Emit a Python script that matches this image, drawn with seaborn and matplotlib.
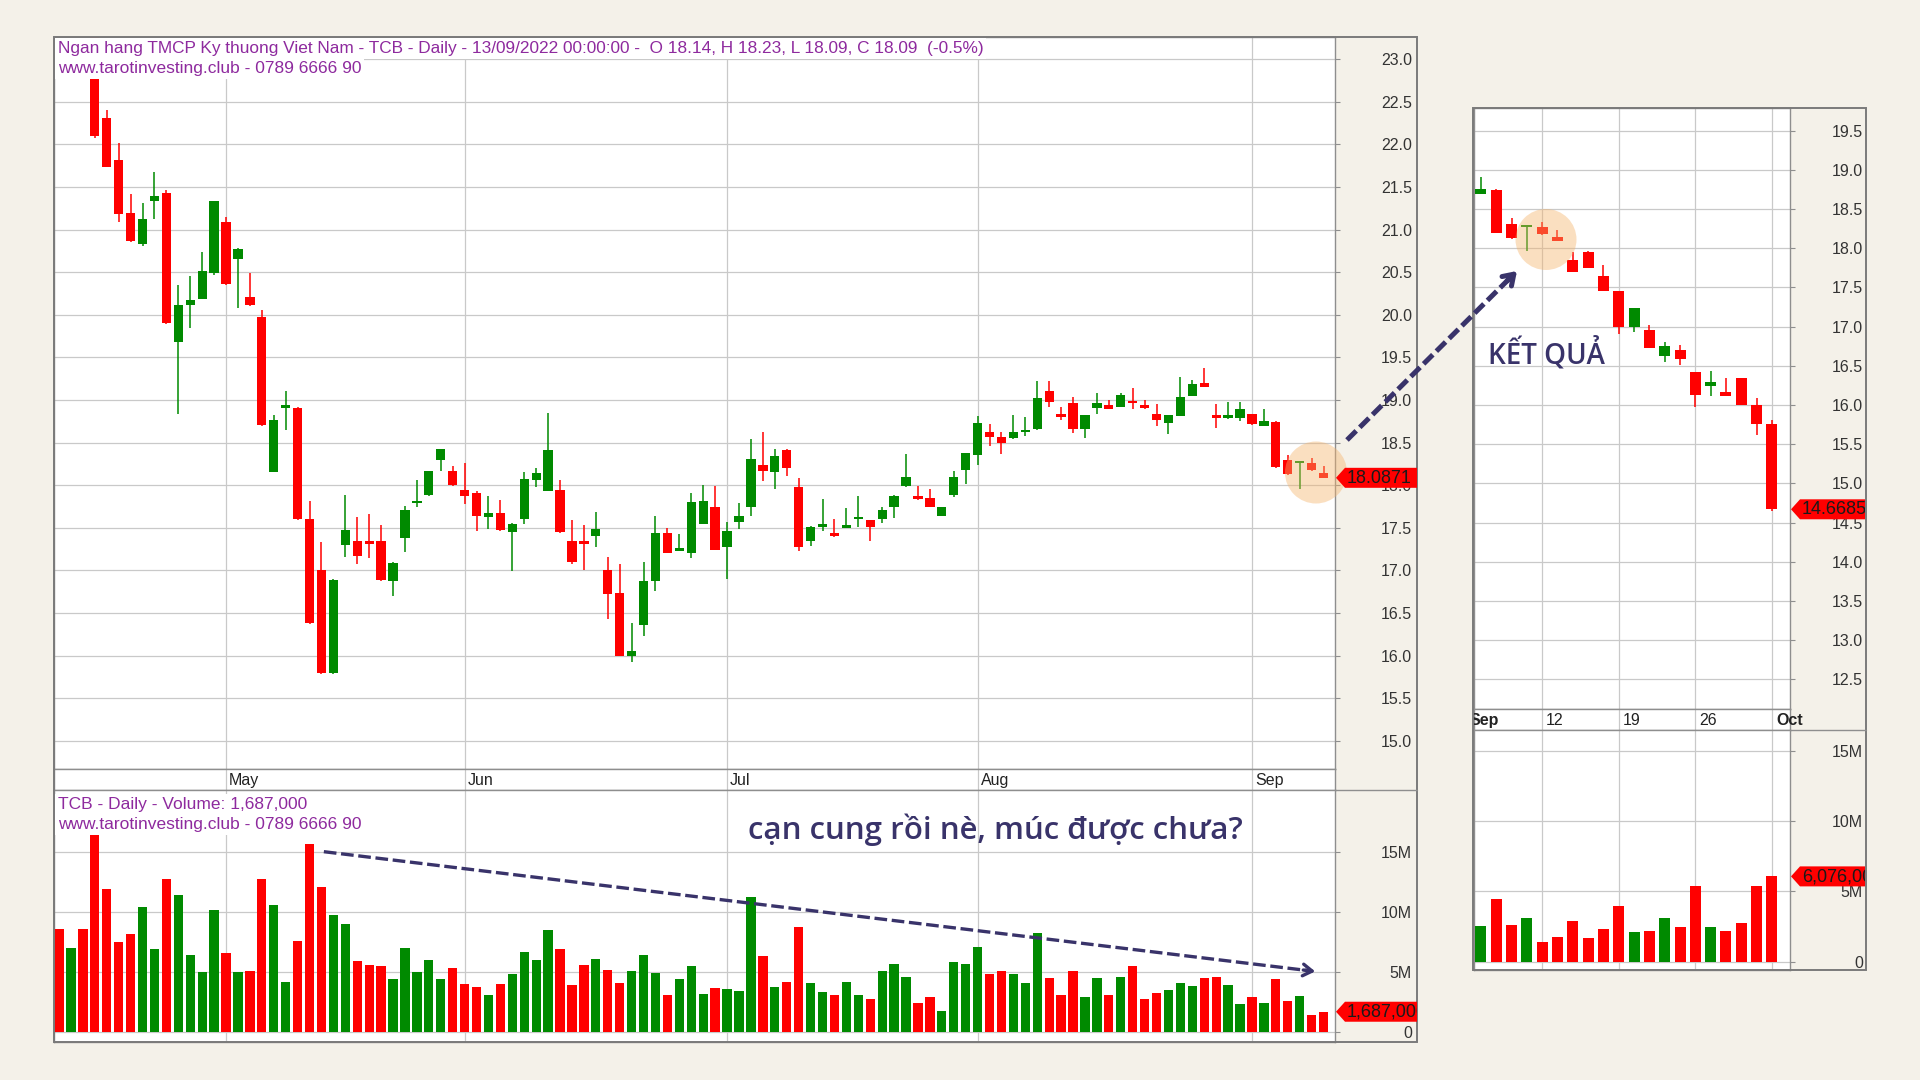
import numpy as np
import pandas as pd
import matplotlib
matplotlib.use("Agg")
import matplotlib.pyplot as plt
import matplotlib.transforms as mtransforms
from matplotlib.patches import Rectangle, Circle, Polygon
import seaborn as sns

# ---------------- data : main chart (TCB daily, 12/04/2022 - 13/09/2022) ----------------
main_start, main_end = "2022-04-12", "2022-09-13"
main_holidays = ["2022-05-02", "2022-05-03", "2022-09-01", "2022-09-02"]

main_open = [24.10, 23.60, 23.90, 23.30, 22.31, 21.82, 21.19, 20.83, 21.33, 21.43,
             19.68, 20.11, 20.19, 20.49, 21.09, 20.65, 20.21, 19.98, 18.16, 18.91,
             18.91, 17.60, 17.01, 15.80, 17.30, 17.35, 17.35, 17.35, 16.88, 17.38,
             17.79, 17.89, 18.30, 18.17, 17.94, 17.91, 17.63, 17.68, 17.45, 17.60,
             18.06, 17.93, 17.94, 17.35, 17.32, 17.41, 17.00, 16.73, 16.00, 16.36,
             16.88, 17.44, 17.23, 17.21, 17.55, 17.74, 17.27, 17.57, 17.74, 18.24,
             18.16, 18.41, 17.98, 17.35, 17.51, 17.44, 17.50, 17.60, 17.59, 17.60,
             17.74, 17.99, 17.87, 17.85, 17.64, 17.89, 18.18, 18.36, 18.63, 18.57,
             18.55, 18.62, 18.66, 19.10, 18.84, 18.97, 18.66, 18.91, 18.94, 18.92,
             18.97, 18.93, 18.84, 18.73, 18.81, 19.05, 19.20, 18.82, 18.79, 18.79,
             18.84, 18.69, 18.74, 18.30, 18.26, 18.26, 18.14]
main_high = [24.30, 24.00, 24.00, 23.35, 22.40, 22.02, 21.42, 21.31, 21.68, 21.46,
             20.35, 20.45, 20.74, 21.34, 21.15, 20.78, 20.49, 20.06, 18.82, 19.11,
             18.92, 17.82, 17.33, 16.90, 17.88, 17.63, 17.66, 17.53, 17.10, 17.76,
             18.06, 18.17, 18.43, 18.23, 18.26, 17.93, 17.87, 17.83, 17.56, 18.15,
             18.20, 18.85, 18.06, 17.59, 17.53, 17.69, 17.16, 17.07, 16.38, 17.10,
             17.64, 17.50, 17.43, 17.91, 18.00, 17.99, 17.57, 17.79, 18.54, 18.62,
             18.42, 18.42, 18.08, 17.52, 17.84, 17.60, 17.73, 17.87, 17.59, 17.74,
             17.89, 18.37, 17.99, 17.96, 17.75, 18.17, 18.38, 18.81, 18.72, 18.62,
             18.82, 18.80, 19.22, 19.22, 18.92, 19.04, 18.82, 19.08, 19.00, 19.08,
             19.14, 19.00, 18.95, 18.82, 19.27, 19.24, 19.37, 18.95, 18.98, 18.98,
             18.84, 18.90, 18.75, 18.35, 18.27, 18.32, 18.23]
main_low = [23.60, 23.50, 23.30, 22.08, 21.73, 21.09, 20.86, 20.81, 21.12, 19.89,
            18.84, 19.85, 20.18, 20.47, 20.35, 20.08, 20.10, 18.70, 18.15, 18.65,
            17.59, 16.37, 15.79, 15.79, 17.16, 17.08, 17.15, 16.88, 16.70, 17.22,
            17.74, 17.87, 18.17, 17.99, 17.78, 17.46, 17.49, 17.46, 16.99, 17.55,
            17.98, 17.93, 17.44, 17.08, 17.00, 17.28, 16.43, 16.00, 15.92, 16.23,
            16.76, 17.20, 17.23, 17.15, 17.54, 17.24, 16.90, 17.49, 17.64, 18.05,
            17.95, 18.11, 17.23, 17.29, 17.46, 17.39, 17.50, 17.51, 17.35, 17.56,
            17.62, 17.98, 17.83, 17.74, 17.64, 17.86, 18.02, 18.24, 18.46, 18.37,
            18.54, 18.58, 18.65, 18.92, 18.76, 18.61, 18.56, 18.84, 18.90, 18.92,
            18.90, 18.90, 18.70, 18.60, 18.81, 19.05, 19.15, 18.67, 18.78, 18.75,
            18.71, 18.69, 18.20, 18.12, 17.96, 18.17, 18.09]
main_close = [23.70, 23.90, 23.40, 22.10, 21.74, 21.18, 20.87, 21.13, 21.39, 19.90,
              20.11, 20.17, 20.51, 21.33, 20.36, 20.77, 20.11, 18.71, 18.76, 18.93,
              17.60, 16.38, 15.80, 16.89, 17.48, 17.17, 17.31, 16.89, 17.09, 17.71,
              17.80, 18.17, 18.43, 18.00, 17.87, 17.64, 17.68, 17.47, 17.55, 18.07,
              18.14, 18.41, 17.45, 17.10, 17.31, 17.49, 16.72, 16.00, 16.06, 16.88,
              17.44, 17.21, 17.24, 17.80, 17.82, 17.24, 17.46, 17.64, 18.31, 18.17,
              18.34, 18.20, 17.27, 17.51, 17.55, 17.40, 17.51, 17.61, 17.51, 17.71,
              17.87, 18.10, 17.84, 17.74, 17.75, 18.10, 18.38, 18.73, 18.57, 18.49,
              18.62, 18.63, 19.02, 18.98, 18.80, 18.66, 18.82, 18.96, 18.90, 19.06,
              18.96, 18.91, 18.76, 18.82, 19.03, 19.19, 19.15, 18.79, 18.82, 18.89,
              18.72, 18.75, 18.21, 18.13, 18.27, 18.18, 18.09]
main_volume_m = [8.6, 7.0, 8.6, 16.7, 11.9, 7.5, 8.2, 10.4, 6.9, 12.75,
                 11.4, 6.4, 5.0, 10.2, 6.6, 5.0, 5.1, 12.75, 10.6, 4.2,
                 7.6, 15.7, 12.1, 9.8, 9.0, 5.9, 5.6, 5.5, 4.4, 7.0,
                 5.0, 6.0, 4.4, 5.3, 4.0, 3.75, 3.1, 4.0, 4.8, 6.7,
                 6.0, 8.5, 6.9, 3.9, 5.6, 6.1, 5.2, 4.1, 5.1, 6.4,
                 4.9, 3.1, 4.4, 5.5, 3.2, 3.7, 3.6, 3.4, 11.25, 6.3,
                 3.75, 4.2, 8.8, 4.1, 3.3, 3.05, 4.2, 3.1, 2.75, 5.1,
                 5.7, 4.6, 2.4, 2.9, 1.75, 5.8, 5.7, 7.1, 4.8, 5.1,
                 4.8, 4.1, 8.3, 4.5, 3.1, 5.1, 2.9, 4.5, 3.1, 4.6,
                 5.5, 2.75, 3.25, 3.5, 4.1, 3.8, 4.5, 4.6, 3.9, 2.3,
                 2.9, 2.4, 4.4, 2.6, 3.0, 1.4, 1.687]
main_last_label = 18.0871

# ---------------- data : result inset (05/09/2022 - 03/10/2022) ----------------
inset_start, inset_end = "2022-09-05", "2022-10-03"
inset_open = [18.84, 18.69, 18.74, 18.31, 18.265, 18.265, 18.14, 17.85, 17.95, 17.65,
              17.46, 16.99, 16.96, 16.63, 16.70, 16.42, 16.245, 16.17, 16.34, 16.00, 15.755]
inset_high = [18.84, 18.91, 18.76, 18.385, 18.27, 18.335, 18.23, 17.95, 17.96, 17.78,
              17.46, 17.24, 17.02, 16.80, 16.77, 16.42, 16.43, 16.34, 16.34, 16.095, 15.81]
inset_low = [18.71, 18.69, 18.20, 18.12, 17.96, 18.175, 18.09, 17.70, 17.75, 17.45,
             16.90, 16.93, 16.73, 16.55, 16.51, 15.98, 16.12, 16.11, 16.00, 15.62, 14.65]
inset_close = [18.72, 18.75, 18.20, 18.13, 18.27, 18.18, 18.09, 17.70, 17.75, 17.45,
               16.99, 17.24, 16.73, 16.755, 16.585, 16.13, 16.29, 16.12, 16.00, 15.755, 14.6685]
inset_volume_m = [2.9, 2.52, 4.45, 2.6, 3.08, 1.37, 1.78, 2.91, 1.68, 2.36,
                  3.97, 2.09, 2.19, 3.08, 2.45, 5.41, 2.5, 2.19, 2.74, 5.41, 6.076]

price_ticks_main = [15.0, 15.5, 16.0, 16.5, 17.0, 17.5, 18.0, 18.5, 19.0, 19.5,
                    20.0, 20.5, 21.0, 21.5, 22.0, 22.5, 23.0]
price_ticks_inset = [12.5, 13.0, 13.5, 14.0, 14.5, 15.0, 15.5, 16.0, 16.5, 17.0,
                     17.5, 18.0, 18.5, 19.0, 19.5]
volume_ticks = [0, 5, 10, 15]
volume_tick_labels = ["0", "5M", "10M", "15M"]

title_name = "Ngan hang TMCP Ky thuong Viet Nam - TCB - Daily"
site_text = "www.tarotinvesting.club - 0789 6666 90"
note_text = "cạn cung rồi nè, múc được chưa?"
result_text = "KẾT QUẢ"

# ---------------- style ----------------
W, H = 1920, 1080
BG = "#F4F1E9"
GREEN = "#008A00"
RED = "#FF0000"
GRID = "#C9C9C9"
SPINE = "#8E8E8E"
FRAME = "#7A7A7A"
NAVY = "#39336A"
PURPLE = "#8E2A9E"

sns.set_theme(style="white")
plt.rcParams["font.family"] = ["Liberation Sans", "DejaVu Sans"]

fig = plt.figure(figsize=(W / 100, H / 100), dpi=100, facecolor=BG)


def add_ax(x0, y0, x1, y1):
    return fig.add_axes([x0 / W, 1 - y1 / H, (x1 - x0) / W, (y1 - y0) / H])


def frame_bbox(x0, y0, x1, y1):
    return mtransforms.TransformedBbox(
        mtransforms.Bbox.from_extents(x0 / W, 1 - y1 / H, x1 / W, 1 - y0 / H), fig.transFigure)


def trading_days(start, end, holidays):
    d = pd.bdate_range(start, end)
    return d[~d.isin(pd.to_datetime(holidays))]


def draw_candles(ax, o, h, l, c, width, minh):
    o, h, l, c = map(np.asarray, (o, h, l, c))
    x = np.arange(len(o))
    cols = np.where(c >= o, GREEN, RED)
    ax.vlines(x, l, h, colors=cols, lw=1.1, zorder=3)
    bottom = np.minimum(o, c)
    height = np.maximum(np.abs(c - o), minh)
    ax.bar(x, height, width, bottom=bottom, color=cols, linewidth=0, zorder=4)


def draw_volume(ax, vol, o, c, width):
    df = pd.DataFrame({"x": np.arange(len(vol)), "v": vol,
                       "d": np.where(np.asarray(c) >= np.asarray(o), "up", "down")})
    sns.barplot(data=df, x="x", y="v", hue="d", palette={"up": GREEN, "down": RED},
                native_scale=True, width=width, dodge=False, legend=False,
                saturation=1, errorbar=None, linewidth=0, ax=ax, zorder=3)
    ax.set_xlabel("")
    ax.set_ylabel("")


def style_panel(ax, xlim, ylim, xgrid, yticks, ylabels, pad_pt):
    ax.set_facecolor("white")
    ax.set_xticks(xgrid)
    ax.set_yticks(yticks)
    ax.set_xlim(*xlim)
    ax.set_ylim(*ylim)
    ax.tick_params(axis="x", length=0, labelbottom=False, bottom=False)
    ax.yaxis.tick_right()
    ax.set_yticklabels(ylabels, ha="right")
    ax.tick_params(axis="y", direction="out", length=3.6, width=0.8, color=SPINE,
                   labelcolor="#333333", labelsize=11.5, pad=pad_pt,
                   left=False, right=True, labelleft=False, labelright=True)
    ax.grid(True, color=GRID, lw=0.9)
    ax.set_axisbelow(True)
    for s in ax.spines.values():
        s.set_visible(True)
        s.set_color(SPINE)
        s.set_linewidth(1.0)


def style_strip(ax, xlim, pos, labels, bolds, dx, clipbox):
    ax.set_facecolor("white")
    ax.set_xticks([])
    ax.set_yticks([])
    ax.set_xlim(*xlim)
    ax.set_ylim(0, 1)
    for p in pos:
        ax.axvline(p, color=GRID, lw=0.9, zorder=0)
    off = mtransforms.offset_copy(ax.transData, fig=fig, x=dx, y=0, units="dots")
    for p, lab, b in zip(pos, labels, bolds):
        t = ax.text(p, 0.45, lab, transform=off, ha="left", va="center", fontsize=11.5,
                    color="#222222", fontweight="bold" if b else "normal")
        t.set_clip_on(True)
        t.set_clip_box(clipbox)
    ax.set_xlim(*xlim)
    for s in ax.spines.values():
        s.set_visible(True)
        s.set_color(SPINE)
        s.set_linewidth(1.0)


MAIN_FRAME = (54, 37, 1417, 1042)
INSET_FRAME = (1473, 108, 1866, 970)

# ---------------- main chart ----------------
mdates = trading_days(main_start, main_end, main_holidays)
m_month_pos = [i for i in range(1, len(mdates)) if mdates[i].month != mdates[i - 1].month]
m_month_lab = [mdates[i].strftime("%b") for i in m_month_pos]
m_xlim = (-0.42, 106.96)

ax_p = add_ax(54, 37, 1335, 769)
draw_candles(ax_p, main_open, main_high, main_low, main_close, 0.78, 0.03)
style_panel(ax_p, m_xlim, (14.67, 23.26), m_month_pos, price_ticks_main,
            [f"{t:.1f}" for t in price_ticks_main], 51.8)

ax_s = add_ax(54, 769, 1335, 790)
style_strip(ax_s, m_xlim, m_month_pos, m_month_lab, [False] * len(m_month_pos), 3,
            frame_bbox(*MAIN_FRAME))

ax_v = add_ax(54, 790, 1335, 1042)
draw_volume(ax_v, main_volume_m, main_open, main_close, 0.78)
style_panel(ax_v, m_xlim, (-0.84, 20.2), m_month_pos, volume_ticks, volume_tick_labels, 51.8)

# volume trend arrow (dashed, in volume data units)
v_start, v_end = (22.2, 15.05), (105.3, 5.05)
ax_v.plot([v_start[0], v_end[0] - 0.3], [v_start[1], v_end[1] + 0.036], ls=(0, (3.8, 1.4)),
          lw=2.4, color=NAVY, clip_on=False, zorder=6, dash_capstyle="butt")
ax_v.annotate("", xy=v_end, xytext=(v_end[0] - 1.0, v_end[1] + 0.12),
              arrowprops=dict(arrowstyle="->,head_length=0.55,head_width=0.35", lw=2.4,
                              color=NAVY, shrinkA=0, shrinkB=0), zorder=6)

# ---------------- inset chart ----------------
idates = trading_days(inset_start, inset_end, main_holidays)
i_pos = [i for i in range(len(idates)) if idates[i].weekday() == 0]
i_lab, i_bold = [], []
for i in i_pos:
    new_month = i == 0 or idates[i].month != idates[i - 1].month
    i_lab.append(idates[i].strftime("%b") if new_month else str(idates[i].day))
    i_bold.append(new_month)
i_xlim = (0.55, 21.18)

ax_ip = add_ax(1474, 108, 1790, 709)
draw_candles(ax_ip, inset_open, inset_high, inset_low, inset_close, 0.72, 0.03)
style_panel(ax_ip, i_xlim, (12.12, 19.79), i_pos, price_ticks_inset,
            [f"{t:.1f}" for t in price_ticks_inset], 49.0)

ax_is = add_ax(1474, 709, 1790, 730)
style_strip(ax_is, i_xlim, i_pos, i_lab, i_bold, 4, frame_bbox(*INSET_FRAME))

ax_iv = add_ax(1474, 730, 1790, 970)
draw_volume(ax_iv, inset_volume_m, inset_open, inset_close, 0.72)
style_panel(ax_iv, i_xlim, (-0.59, 16.5), i_pos, volume_ticks, volume_tick_labels, 49.0)

# ---------------- overlay (pixel coordinates) ----------------
ov = fig.add_axes([0, 0, 1, 1])
ov.set_xlim(0, W)
ov.set_ylim(H, 0)
ov.axis("off")
ov.patch.set_alpha(0)


def py(ax, val):
    return H - ax.transData.transform((ax.get_xlim()[0], val))[1]


# frames
for (x0, y0, x1, y1) in [MAIN_FRAME, INSET_FRAME]:
    ov.add_patch(Rectangle((x0, y0), x1 - x0, y1 - y0, fill=False, ec=FRAME, lw=1.4, zorder=1))
ov.plot([1335, 1417], [790, 790], color=SPINE, lw=1.0, zorder=1)
ov.plot([1790, 1866], [730, 730], color=SPINE, lw=1.0, zorder=1)

# header texts with white boxes
chg = (main_close[-1] - main_close[-2]) / main_close[-2] * 100
title1 = (f"{title_name} - {mdates[-1].strftime('%d/%m/%Y')} 00:00:00 -  "
          f"O {main_open[-1]:.2f}, H {main_high[-1]:.2f}, L {main_low[-1]:.2f}, "
          f"C {main_close[-1]:.2f}  ({chg:.1f}%)")
vol1 = f"TCB - Daily - Volume: {int(round(main_volume_m[-1] * 1e6)):,}"
box = dict(fc="white", ec="none", pad=2.0)
for (x, y, s, fs) in [(58, 48.5, title1, 12.4), (58, 69, site_text, 12.5),
                      (58, 804.5, vol1, 12.5), (58, 824.5, site_text, 12.5)]:
    ov.text(x, y, s, ha="left", va="center", fontsize=fs, color=PURPLE, bbox=box, zorder=5)


def tag(x0, x1, yc, text, hh=10):
    poly = Polygon([(x0, yc), (x0 + 9, yc - hh), (x1, yc - hh), (x1, yc + hh), (x0 + 9, yc + hh)],
                   closed=True, fc=RED, ec="none", zorder=6)
    ov.add_patch(poly)
    t = ov.text(x0 + 11, yc + 0.5, text, ha="left", va="center", fontsize=13, color="#1A1A1A", zorder=7)
    t.set_clip_on(True)
    t.set_clip_box(frame_bbox(x0, yc - hh, x1, yc + hh))


tag(1336, 1417, py(ax_p, main_last_label), f"{main_last_label:.4f}")
tag(1336, 1417, py(ax_v, main_volume_m[-1]), f"{int(round(main_volume_m[-1] * 1e6)):,}")
tag(1791, 1865, py(ax_ip, inset_close[-1]), f"{inset_close[-1]:.4f}")
tag(1791, 1865, py(ax_iv, inset_volume_m[-1]), f"{int(round(inset_volume_m[-1] * 1e6)):,}")

# highlight circles
for (cx, cy, r) in [(1316, 472.5, 31), (1546, 239.5, 30.5)]:
    ov.add_patch(Circle((cx, cy), r, fc=(0.96, 0.70, 0.42), alpha=0.42, ec="none", zorder=4))

# dashed arrow main -> inset
a0, a1 = (1347, 440), (1517, 271)
ov.plot([a0[0], a1[0] - 4], [a0[1], a1[1] + 4], ls=(0, (2.6, 1.0)), lw=3.6, color=NAVY,
        zorder=6, dash_capstyle="butt")
ov.annotate("", xy=a1, xytext=(a1[0] - 10, a1[1] + 10),
            arrowprops=dict(arrowstyle="->,head_length=0.6,head_width=0.4", lw=3.6,
                            color=NAVY, shrinkA=0, shrinkB=0), zorder=6)

# annotation texts
ov.text(995, 830, note_text, ha="center", va="center", fontsize=22.5, color=NAVY,
        family=["Open Sans", "DejaVu Sans"], fontweight="semibold", zorder=6)
ov.text(1546, 355, result_text, ha="center", va="center", fontsize=20, color=NAVY,
        family=["Open Sans", "DejaVu Sans"], fontweight="semibold", zorder=6)

fig.savefig("out.png", dpi=100, facecolor=BG)
